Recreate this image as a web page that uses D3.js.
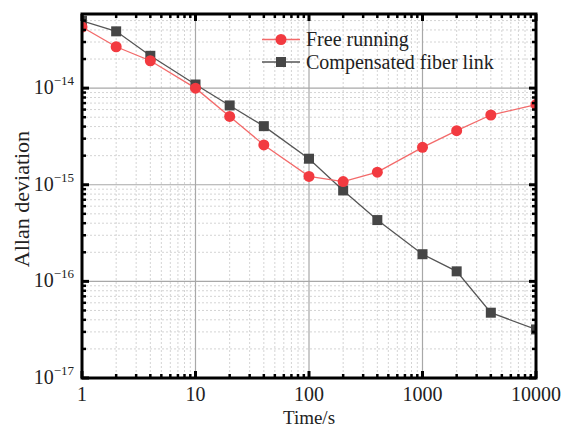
<!DOCTYPE html>
<html><head><meta charset="utf-8">
<script src="https://cdn.jsdelivr.net/npm/d3@7"></script>
<style>
html,body{margin:0;padding:0;background:#fff;}
svg{display:block;font-family:"Liberation Serif","Times New Roman",serif;}
</style></head>
<body>
<svg id="c" width="564" height="427"></svg>
<script>
const times = [1,2,4,10,20,40,100,200,400,1000,2000,4000,10000];
const freeRunning = [4.29e-14,2.68e-14,1.92e-14,1.0e-14,5.09e-15,2.58e-15,1.22e-15,1.08e-15,1.35e-15,2.44e-15,3.63e-15,5.27e-15,6.75e-15];
const compensated = [4.98e-14,3.87e-14,2.16e-14,1.09e-14,6.62e-15,4.04e-15,1.86e-15,8.73e-16,4.31e-16,1.91e-16,1.27e-16,4.74e-17,3.18e-17];
const xTickValues = [1,10,100,1000,10000];
const xTickLabels = ["1","10","100","1000","10000"];
const yTickValues = [1e-17,1e-16,1e-15,1e-14];
const yTickExps = ["\u221217","\u221216","\u221215","\u221214"];
const seriesNames = ["Free running","Compensated fiber link"];

const L=82, R=536, T=14, B=378;
const svg = d3.select("#c");
const x = d3.scaleLog().domain([1,10000]).range([L,R]);
const y = d3.scaleLog().domain([1e-17,5.85e-14]).range([B,T]);

const xMinor=[], yMinor=[];
for(let k=0;k<4;k++) for(let m=2;m<=9;m++) xMinor.push(m*Math.pow(10,k));
for(let k=-17;k<=-14;k++) for(let m=2;m<=9;m++){const v=m*Math.pow(10,k); if(v<=5.85e-14) yMinor.push(v);}

const grid = svg.append("g");
grid.selectAll(".xm").data(xMinor).join("line")
  .attr("x1",d=>x(d)).attr("x2",d=>x(d)).attr("y1",T).attr("y2",B)
  .attr("stroke","#d4d4d4").attr("stroke-width",1).attr("stroke-dasharray","2,2");
grid.selectAll(".ym").data(yMinor).join("line")
  .attr("y1",d=>y(d)).attr("y2",d=>y(d)).attr("x1",L).attr("x2",R)
  .attr("stroke","#d4d4d4").attr("stroke-width",1).attr("stroke-dasharray","2,2");
grid.selectAll(".xM").data(xTickValues).join("line")
  .attr("x1",d=>x(d)).attr("x2",d=>x(d)).attr("y1",T).attr("y2",B)
  .attr("stroke","#a8a8a8").attr("stroke-width",1.2);
grid.selectAll(".yM").data(yTickValues).join("line")
  .attr("y1",d=>y(d)).attr("y2",d=>y(d)).attr("x1",L).attr("x2",R)
  .attr("stroke","#a8a8a8").attr("stroke-width",1.2);

svg.append("clipPath").attr("id","clip").append("rect")
  .attr("x",L).attr("y",T).attr("width",R-L).attr("height",B-T);
const plot = svg.append("g").attr("clip-path","url(#clip)");

const line = d3.line().x((d,i)=>x(times[i])).y(d=>y(d));
plot.append("path").datum(compensated).attr("d",line)
  .attr("fill","none").attr("stroke","#555").attr("stroke-width",1.3);
plot.append("path").datum(freeRunning).attr("d",line)
  .attr("fill","none").attr("stroke","#f36a6a").attr("stroke-width",1.3);
plot.selectAll(".sq").data(compensated).join("rect")
  .attr("x",(d,i)=>x(times[i])-5).attr("y",d=>y(d)-5).attr("width",10).attr("height",10)
  .attr("fill","#464646");
plot.selectAll(".ci").data(freeRunning).join("circle")
  .attr("cx",(d,i)=>x(times[i])).attr("cy",d=>y(d)).attr("r",5.5)
  .attr("fill","#f23a40");

const tk = svg.append("g").attr("stroke","#000");
[[B,-1],[T,1]].forEach(([yy,dir])=>{
  tk.selectAll(null).data(xTickValues).join("line")
    .attr("x1",d=>x(d)).attr("x2",d=>x(d)).attr("y1",yy).attr("y2",yy+dir*7).attr("stroke-width",3);
  tk.selectAll(null).data(xMinor).join("line")
    .attr("x1",d=>x(d)).attr("x2",d=>x(d)).attr("y1",yy).attr("y2",yy+dir*4).attr("stroke-width",2.5);
});
[[L,1],[R,-1]].forEach(([xx,dir])=>{
  tk.selectAll(null).data(yTickValues).join("line")
    .attr("y1",d=>y(d)).attr("y2",d=>y(d)).attr("x1",xx).attr("x2",xx+dir*7).attr("stroke-width",3);
  tk.selectAll(null).data(yMinor).join("line")
    .attr("y1",d=>y(d)).attr("y2",d=>y(d)).attr("x1",xx).attr("x2",xx+dir*4).attr("stroke-width",2.5);
});
svg.append("rect").attr("x",L).attr("y",T).attr("width",R-L).attr("height",B-T)
  .attr("fill","none").attr("stroke","#000").attr("stroke-width",3);

svg.selectAll(".xl").data(xTickValues).join("text")
  .attr("x",d=>x(d)).attr("y",401).attr("text-anchor","middle")
  .attr("font-size",20).attr("fill","#222").text((d,i)=>xTickLabels[i]);
const yl = svg.selectAll(".yl").data(yTickValues).join("text")
  .attr("x",74).attr("y",d=>y(d)+6).attr("text-anchor","end")
  .attr("font-size",20).attr("fill","#222");
yl.append("tspan").text("10");
yl.append("tspan").attr("dy",-9).attr("font-size",13).text((d,i)=>yTickExps[i]);

svg.append("text").attr("x",(L+R)/2).attr("y",424).attr("text-anchor","middle")
  .attr("font-size",19).attr("fill","#222").text("Time/s");
svg.append("text").attr("transform",`translate(29,${(T+B)/2+3}) rotate(-90)`)
  .attr("text-anchor","middle").attr("font-size",22).attr("fill","#222").text("Allan deviation");

const lg = svg.append("g");
const ly=[39.5,62];
lg.append("line").attr("x1",262).attr("x2",300).attr("y1",ly[0]).attr("y2",ly[0]).attr("stroke","#f36a6a").attr("stroke-width",1.3);
lg.append("circle").attr("cx",281).attr("cy",ly[0]).attr("r",5.5).attr("fill","#f23a40");
lg.append("line").attr("x1",262).attr("x2",300).attr("y1",ly[1]).attr("y2",ly[1]).attr("stroke","#555").attr("stroke-width",1.3);
lg.append("rect").attr("x",276).attr("y",ly[1]-5).attr("width",10).attr("height",10).attr("fill","#464646");
lg.selectAll(".lt").data(seriesNames).join("text")
  .attr("x",306).attr("y",(d,i)=>ly[i]+6.5).attr("font-size",20).attr("fill","#222").text(d=>d);
</script>
</body></html>
